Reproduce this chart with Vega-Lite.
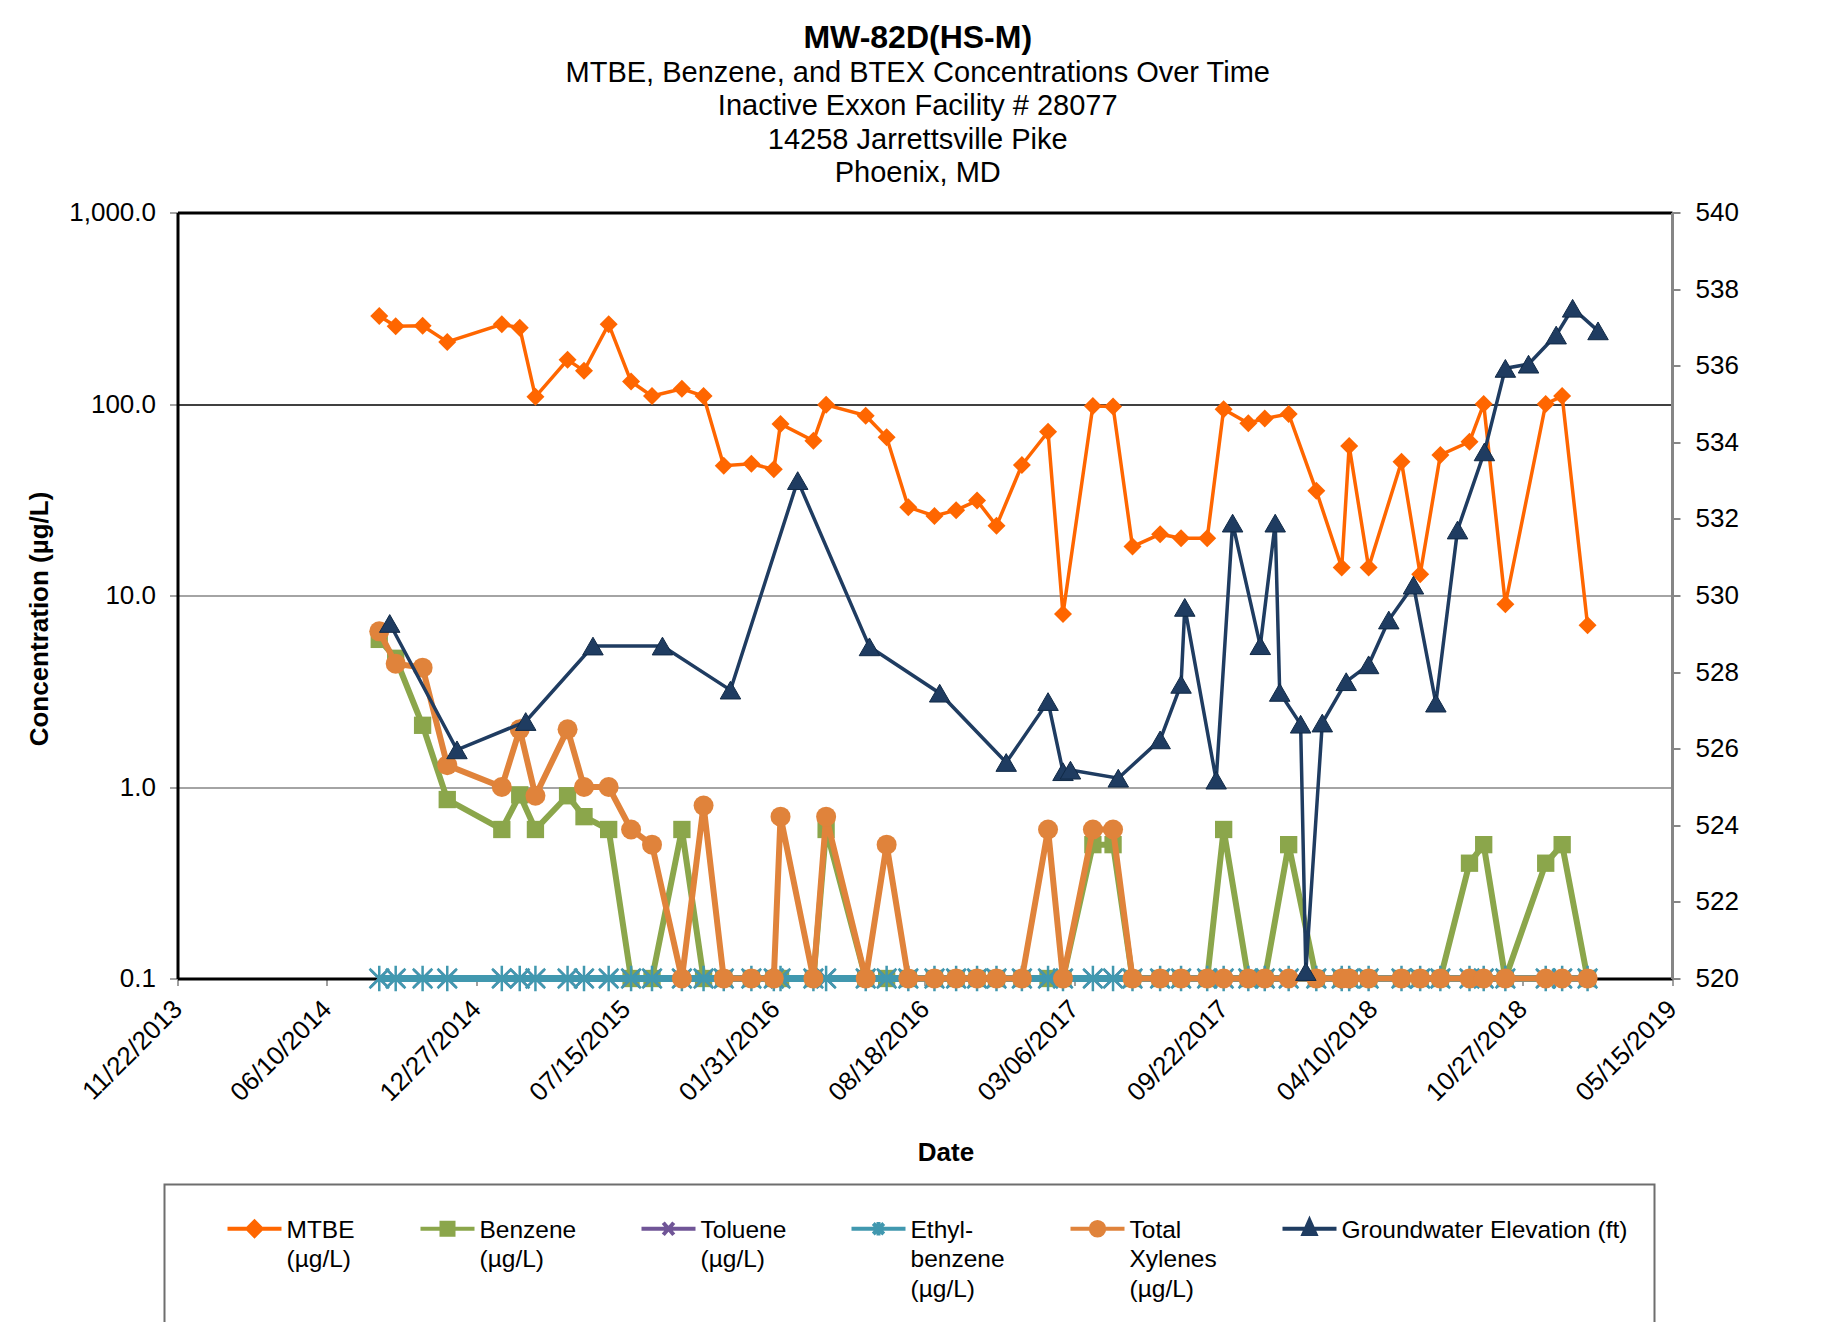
{
  "$schema": "https://vega.github.io/schema/vega-lite/v6.json",
  "width": 1494.5,
  "height": 766,
  "autosize": {"type": "none"},
  "padding": {"left": 177.5, "top": 212.5, "right": 159, "bottom": 343.5},
  "background": "white",
  "config": {
    "font": "Liberation Sans",
    "view": {"stroke": null},
    "axis": {"labelColor": "black", "titleColor": "black", "labelFont": "Liberation Sans", "titleFont": "Liberation Sans"}
  },
  "title": {
    "text": "MW-82D(HS-M)",
    "subtitle": ["MTBE, Benzene, and BTEX Concentrations Over Time", "Inactive Exxon Facility # 28077", "14258 Jarrettsville Pike", "Phoenix, MD"],
    "anchor": "middle",
    "frame": "group",
    "font": "Liberation Sans",
    "fontSize": 32,
    "fontWeight": "bold",
    "color": "black",
    "subtitleFont": "Liberation Sans",
    "subtitleFontSize": 29,
    "subtitleColor": "black",
    "subtitleLineHeight": 33.6,
    "subtitlePadding": 4,
    "offset": 10,
    "dx": -7
  },
  "datasets": {
    "conc": [
      {"d": "2014-08-19", "MTBE": 288, "Benzene": 5.9, "Toluene": 0.1, "Ethyl": 0.1, "Xylenes": 6.5},
      {"d": "2014-09-10", "MTBE": 255, "Benzene": 4.7, "Toluene": 0.1, "Ethyl": 0.1, "Xylenes": 4.4},
      {"d": "2014-10-16", "MTBE": 256, "Benzene": 2.1, "Toluene": 0.1, "Ethyl": 0.1, "Xylenes": 4.2},
      {"d": "2014-11-18", "MTBE": 211, "Benzene": 0.86, "Toluene": 0.1, "Ethyl": 0.1, "Xylenes": 1.3},
      {"d": "2015-01-30", "MTBE": 261, "Benzene": 0.6, "Toluene": 0.1, "Ethyl": 0.1, "Xylenes": 1.0},
      {"d": "2015-02-23", "MTBE": 250, "Benzene": 0.91, "Toluene": 0.1, "Ethyl": 0.1, "Xylenes": 2.0},
      {"d": "2015-03-16", "MTBE": 109, "Benzene": 0.6, "Toluene": 0.1, "Ethyl": 0.1, "Xylenes": 0.9},
      {"d": "2015-04-28", "MTBE": 170, "Benzene": 0.9, "Toluene": 0.1, "Ethyl": 0.1, "Xylenes": 2.0},
      {"d": "2015-05-20", "MTBE": 149, "Benzene": 0.7, "Toluene": 0.1, "Ethyl": 0.1, "Xylenes": 1.0},
      {"d": "2015-06-22", "MTBE": 261, "Benzene": 0.6, "Toluene": 0.1, "Ethyl": 0.1, "Xylenes": 1.0},
      {"d": "2015-07-22", "MTBE": 131, "Benzene": 0.1, "Toluene": 0.1, "Ethyl": 0.1, "Xylenes": 0.6},
      {"d": "2015-08-19", "MTBE": 110, "Benzene": 0.1, "Toluene": 0.1, "Ethyl": 0.1, "Xylenes": 0.5},
      {"d": "2015-09-28", "MTBE": 120, "Benzene": 0.6, "Toluene": 0.1, "Ethyl": 0.1, "Xylenes": 0.1},
      {"d": "2015-10-27", "MTBE": 110, "Benzene": 0.1, "Toluene": 0.1, "Ethyl": 0.1, "Xylenes": 0.8},
      {"d": "2015-11-23", "MTBE": 47.6, "Benzene": 0.1, "Toluene": 0.1, "Ethyl": 0.1, "Xylenes": 0.1},
      {"d": "2015-12-30", "MTBE": 48.7, "Benzene": 0.1, "Toluene": 0.1, "Ethyl": 0.1, "Xylenes": 0.1},
      {"d": "2016-01-29", "MTBE": 45.6, "Benzene": 0.1, "Toluene": 0.1, "Ethyl": 0.1, "Xylenes": 0.1},
      {"d": "2016-02-07", "MTBE": 78.7, "Benzene": 0.1, "Toluene": 0.1, "Ethyl": 0.1, "Xylenes": 0.7},
      {"d": "2016-03-22", "MTBE": 64.2, "Benzene": 0.1, "Toluene": 0.1, "Ethyl": 0.1, "Xylenes": 0.1},
      {"d": "2016-04-08", "MTBE": 99, "Benzene": 0.6, "Toluene": 0.1, "Ethyl": 0.1, "Xylenes": 0.7},
      {"d": "2016-05-31", "MTBE": 86.9, "Benzene": 0.1, "Toluene": 0.1, "Ethyl": 0.1, "Xylenes": 0.1},
      {"d": "2016-06-28", "MTBE": 67, "Benzene": 0.1, "Toluene": 0.1, "Ethyl": 0.1, "Xylenes": 0.5},
      {"d": "2016-07-27", "MTBE": 28.9, "Benzene": 0.1, "Toluene": 0.1, "Ethyl": 0.1, "Xylenes": 0.1},
      {"d": "2016-08-31", "MTBE": 26, "Benzene": 0.1, "Toluene": 0.1, "Ethyl": 0.1, "Xylenes": 0.1},
      {"d": "2016-09-29", "MTBE": 27.9, "Benzene": 0.1, "Toluene": 0.1, "Ethyl": 0.1, "Xylenes": 0.1},
      {"d": "2016-10-27", "MTBE": 31.3, "Benzene": 0.1, "Toluene": 0.1, "Ethyl": 0.1, "Xylenes": 0.1},
      {"d": "2016-11-22", "MTBE": 23.1, "Benzene": 0.1, "Toluene": 0.1, "Ethyl": 0.1, "Xylenes": 0.1},
      {"d": "2016-12-26", "MTBE": 48, "Benzene": 0.1, "Toluene": 0.1, "Ethyl": 0.1, "Xylenes": 0.1},
      {"d": "2017-01-30", "MTBE": 71.6, "Benzene": 0.1, "Toluene": 0.1, "Ethyl": 0.1, "Xylenes": 0.6},
      {"d": "2017-02-19", "MTBE": 8.0, "Benzene": 0.1, "Toluene": 0.1, "Ethyl": 0.1, "Xylenes": 0.1},
      {"d": "2017-03-31", "MTBE": 97.6, "Benzene": 0.5, "Toluene": 0.1, "Ethyl": 0.1, "Xylenes": 0.6},
      {"d": "2017-04-27", "MTBE": 96.9, "Benzene": 0.5, "Toluene": 0.1, "Ethyl": 0.1, "Xylenes": 0.6},
      {"d": "2017-05-23", "MTBE": 18, "Benzene": 0.1, "Toluene": 0.1, "Ethyl": 0.1, "Xylenes": 0.1},
      {"d": "2017-06-29", "MTBE": 20.9, "Benzene": 0.1, "Toluene": 0.1, "Ethyl": 0.1, "Xylenes": 0.1},
      {"d": "2017-07-27", "MTBE": 19.9, "Benzene": 0.1, "Toluene": 0.1, "Ethyl": 0.1, "Xylenes": 0.1},
      {"d": "2017-08-31", "MTBE": 19.9, "Benzene": 0.1, "Toluene": 0.1, "Ethyl": 0.1, "Xylenes": 0.1},
      {"d": "2017-09-22", "MTBE": 93.8, "Benzene": 0.6, "Toluene": 0.1, "Ethyl": 0.1, "Xylenes": 0.1},
      {"d": "2017-10-25", "MTBE": 79.3, "Benzene": 0.1, "Toluene": 0.1, "Ethyl": 0.1, "Xylenes": 0.1},
      {"d": "2017-11-16", "MTBE": 84.1, "Benzene": 0.1, "Toluene": 0.1, "Ethyl": 0.1, "Xylenes": 0.1},
      {"d": "2017-12-18", "MTBE": 88.7, "Benzene": 0.5, "Toluene": 0.1, "Ethyl": 0.1, "Xylenes": 0.1},
      {"d": "2018-01-24", "MTBE": 35.2, "Benzene": 0.1, "Toluene": 0.1, "Ethyl": 0.1, "Xylenes": 0.1},
      {"d": "2018-02-27", "MTBE": 14.0, "Benzene": 0.1, "Toluene": 0.1, "Ethyl": 0.1, "Xylenes": 0.1},
      {"d": "2018-03-09", "MTBE": 60.4, "Benzene": 0.1, "Toluene": 0.1, "Ethyl": 0.1, "Xylenes": 0.1},
      {"d": "2018-04-04", "MTBE": 14.0, "Benzene": 0.1, "Toluene": 0.1, "Ethyl": 0.1, "Xylenes": 0.1},
      {"d": "2018-05-18", "MTBE": 50, "Benzene": 0.1, "Toluene": 0.1, "Ethyl": 0.1, "Xylenes": 0.1},
      {"d": "2018-06-12", "MTBE": 12.9, "Benzene": 0.1, "Toluene": 0.1, "Ethyl": 0.1, "Xylenes": 0.1},
      {"d": "2018-07-09", "MTBE": 54.2, "Benzene": 0.1, "Toluene": 0.1, "Ethyl": 0.1, "Xylenes": 0.1},
      {"d": "2018-08-17", "MTBE": 63.5, "Benzene": 0.4, "Toluene": 0.1, "Ethyl": 0.1, "Xylenes": 0.1},
      {"d": "2018-09-05", "MTBE": 100, "Benzene": 0.5, "Toluene": 0.1, "Ethyl": 0.1, "Xylenes": 0.1},
      {"d": "2018-10-04", "MTBE": 9.0, "Benzene": 0.1, "Toluene": 0.1, "Ethyl": 0.1, "Xylenes": 0.1},
      {"d": "2018-11-27", "MTBE": 100, "Benzene": 0.4, "Toluene": 0.1, "Ethyl": 0.1, "Xylenes": 0.1},
      {"d": "2018-12-19", "MTBE": 110, "Benzene": 0.5, "Toluene": 0.1, "Ethyl": 0.1, "Xylenes": 0.1},
      {"d": "2019-01-22", "MTBE": 7.0, "Benzene": 0.1, "Toluene": 0.1, "Ethyl": 0.1, "Xylenes": 0.1}
    ],
    "gw": [
      {"d": "2014-09-02", "GW": 529.27},
      {"d": "2014-12-01", "GW": 525.97},
      {"d": "2015-03-03", "GW": 526.71},
      {"d": "2015-06-01", "GW": 528.68},
      {"d": "2015-09-02", "GW": 528.68},
      {"d": "2015-12-02", "GW": 527.53},
      {"d": "2016-03-01", "GW": 533.0},
      {"d": "2016-06-05", "GW": 528.66},
      {"d": "2016-09-07", "GW": 527.45},
      {"d": "2016-12-05", "GW": 525.64},
      {"d": "2017-01-30", "GW": 527.23},
      {"d": "2017-02-19", "GW": 525.4},
      {"d": "2017-03-01", "GW": 525.44},
      {"d": "2017-05-04", "GW": 525.23},
      {"d": "2017-06-29", "GW": 526.23},
      {"d": "2017-07-27", "GW": 527.68},
      {"d": "2017-08-01", "GW": 529.69},
      {"d": "2017-09-12", "GW": 525.18},
      {"d": "2017-10-04", "GW": 531.89},
      {"d": "2017-11-10", "GW": 528.69},
      {"d": "2017-11-30", "GW": 531.89},
      {"d": "2017-12-06", "GW": 527.47},
      {"d": "2018-01-03", "GW": 526.64},
      {"d": "2018-01-10", "GW": 520.18},
      {"d": "2018-02-01", "GW": 526.67},
      {"d": "2018-03-05", "GW": 527.75},
      {"d": "2018-04-04", "GW": 528.19},
      {"d": "2018-05-01", "GW": 529.36},
      {"d": "2018-06-03", "GW": 530.27},
      {"d": "2018-07-03", "GW": 527.19},
      {"d": "2018-08-01", "GW": 531.71},
      {"d": "2018-09-06", "GW": 533.75},
      {"d": "2018-10-04", "GW": 535.93},
      {"d": "2018-11-04", "GW": 536.04},
      {"d": "2018-12-11", "GW": 536.8},
      {"d": "2019-01-02", "GW": 537.5},
      {"d": "2019-02-05", "GW": 536.91}
    ]
  },
  "encoding": {
    "x": {
      "field": "d",
      "type": "temporal",
      "scale": {
        "type": "utc",
        "domain": [{"year": 2013, "month": 11, "date": 22, "utc": true}, {"year": 2019, "month": 5, "date": 15, "utc": true}]
      },
      "axis": {
        "values": [
          {"year": 2013, "month": 11, "date": 22, "utc": true},
          {"year": 2014, "month": 6, "date": 10, "utc": true},
          {"year": 2014, "month": 12, "date": 27, "utc": true},
          {"year": 2015, "month": 7, "date": 15, "utc": true},
          {"year": 2016, "month": 1, "date": 31, "utc": true},
          {"year": 2016, "month": 8, "date": 18, "utc": true},
          {"year": 2017, "month": 3, "date": 6, "utc": true},
          {"year": 2017, "month": 9, "date": 22, "utc": true},
          {"year": 2018, "month": 4, "date": 10, "utc": true},
          {"year": 2018, "month": 10, "date": 27, "utc": true},
          {"year": 2019, "month": 5, "date": 15, "utc": true}
        ],
        "format": "%m/%d/%Y",
        "labelAngle": -45,
        "labelAlign": "right",
        "labelBaseline": "middle",
        "labelFontSize": 26,
        "labelPadding": 19,
        "labelOverlap": false,
        "labelBound": false,
        "labelFlush": false,
        "tickSize": 7,
        "tickColor": "#808080",
        "tickWidth": 1.5,
        "domainColor": "black",
        "domainWidth": 3,
        "grid": false,
        "title": "Date",
        "titleFontSize": 26,
        "titleFontWeight": "bold",
        "titleX": 768,
        "titleY": 161
      }
    }
  },
  "layer": [
    {
      "data": {"name": "conc"},
      "transform": [{"fold": ["MTBE", "Benzene", "Toluene", "Ethyl", "Xylenes"], "as": ["series", "value"]}],
      "encoding": {
        "y": {
          "field": "value",
          "type": "quantitative",
          "scale": {"type": "log", "domain": [0.1, 1000], "nice": false},
          "axis": {
            "orient": "left",
            "values": [0.1, 1, 10, 100, 1000],
            "format": ",.1f",
            "grid": true,
            "gridColor": {"condition": {"test": "datum.value >= 100", "value": "black"}, "value": "#868686"},
            "gridWidth": {"condition": {"test": "datum.value >= 1000", "value": 3}, "value": 1.5},
            "domainColor": "black",
            "domainWidth": 3,
            "tickColor": "#868686",
            "tickSize": 8,
            "tickWidth": 1.5,
            "labelFontSize": 26,
            "labelPadding": 14,
            "title": "Concentration (µg/L)",
            "titleFontSize": 26,
            "titleFontWeight": "bold",
            "titleX": -125,
            "titleY": 406
          }
        },
        "color": {
          "field": "series",
          "type": "nominal",
          "scale": {
            "domain": ["MTBE", "Benzene", "Toluene", "Ethyl", "Xylenes", "GW"],
            "range": ["#FF6600", "#8BA64B", "#705597", "#4198AF", "#E0833B", "#1F3C61"]
          },
          "legend": {
            "orient": "none",
            "legendX": -13,
            "legendY": 972,
            "direction": "horizontal",
            "columns": 6,
            "columnPadding": 29,
            "title": null,
            "padding": 27,
            "strokeColor": "#6e6e6e",
            "symbolSize": 900,
            "symbolStrokeWidth": 4,
            "symbolOffset": 46,
            "labelOffset": 15,
            "labelFont": "Liberation Sans",
            "labelFontSize": 24.5,
            "labelColor": "black",
            "labelBaseline": "top",
            "labelLimit": 500,
            "labelExpr": "datum.value == 'MTBE' ? ['MTBE', '(µg/L)', ''] : datum.value == 'Benzene' ? ['Benzene', '(µg/L)', ''] : datum.value == 'Toluene' ? ['Toluene', '(µg/L)', ''] : datum.value == 'Ethyl' ? ['Ethyl-', 'benzene', '(µg/L)'] : datum.value == 'Xylenes' ? ['Total', 'Xylenes', '(µg/L)'] : ['Groundwater Elevation (ft)', '                                              ', '']",
            "encode": {
              "legend": {"update": {"strokeWidth": {"value": 2}}},
              "symbols": {
                "update": {
                  "shape": {"signal": "datum.value == 'MTBE' ? 'M-1.8,0L1.8,0M-0.47,0L0,-0.47L0.47,0L0,0.47Z' : datum.value == 'Benzene' ? 'M-1.8,0L1.8,0M-0.4,-0.4L0.4,-0.4L0.4,0.4L-0.4,0.4Z' : datum.value == 'Toluene' ? 'M-1.8,0L1.8,0M-0.35,-0.4L0.35,0.4M-0.35,0.4L0.35,-0.4' : datum.value == 'Ethyl' ? 'M-1.8,0L1.8,0M-0.35,-0.35L0.35,0.35M-0.35,0.35L0.35,-0.35M0,-0.45L0,0.45' : datum.value == 'Xylenes' ? 'M-1.8,0L1.8,0M-0.45,0A0.45,0.45,0,1,0,0.45,0A0.45,0.45,0,1,0,-0.45,0Z' : 'M-1.8,0L1.8,0M0,-0.55L0.4,0.35L-0.4,0.35Z'"},
                  "fill": {"signal": "datum.value == 'Toluene' || datum.value == 'Ethyl' ? 'transparent' : scale('color', datum.value)"},
                  "stroke": {"signal": "scale('color', datum.value)"},
                  "strokeWidth": {"value": 4},
                  "opacity": {"value": 1}
                }
              },
              "labels": {"update": {"dy": {"value": -10}, "lineHeight": {"value": 29.5}}}
            }
          }
        }
      },
      "layer": [
        {
          "transform": [{"filter": "datum.series === 'MTBE'"}],
          "mark": {"type": "line", "strokeWidth": 3.5, "point": {"shape": "diamond", "size": 324, "filled": true, "opacity": 1}}
        },
        {
          "transform": [{"filter": "datum.series === 'Benzene'"}],
          "mark": {"type": "line", "strokeWidth": 6, "point": {"shape": "square", "size": 300, "filled": true, "opacity": 1}}
        },
        {
          "transform": [{"filter": "datum.series === 'Toluene'"}],
          "mark": {"type": "line", "strokeWidth": 6, "point": {"shape": "M-1,-1L1,1M-1,1L1,-1", "size": 300, "filled": false, "strokeWidth": 2.5, "opacity": 1}}
        },
        {
          "transform": [{"filter": "datum.series === 'Ethyl'"}],
          "mark": {"type": "line", "strokeWidth": 7, "point": {"shape": "M-1,-1L1,1M-1,1L1,-1M0,-1.3L0,1.3", "size": 380, "filled": false, "strokeWidth": 2.5, "opacity": 1}}
        },
        {
          "transform": [{"filter": "datum.series === 'Xylenes'"}],
          "mark": {"type": "line", "strokeWidth": 6, "point": {"shape": "circle", "size": 400, "filled": true, "opacity": 1}}
        }
      ]
    },
    {
      "data": {"name": "gw"},
      "transform": [{"fold": ["GW"], "as": ["series", "elev"]}],
      "mark": {"type": "line", "strokeWidth": 3.5, "point": {"shape": "triangle-up", "size": 420, "filled": true, "opacity": 1, "stroke": "#112a47", "strokeWidth": 1}},
      "encoding": {
        "y": {
          "field": "elev",
          "type": "quantitative",
          "scale": {"domain": [520, 540], "nice": false, "zero": false},
          "axis": {
            "orient": "right",
            "values": [520, 522, 524, 526, 528, 530, 532, 534, 536, 538, 540],
            "format": "d",
            "grid": false,
            "domainColor": "#868686",
            "domainWidth": 3,
            "tickColor": "#868686",
            "tickSize": 8,
            "tickWidth": 2,
            "labelFontSize": 26,
            "labelPadding": 15,
            "title": null
          }
        },
        "color": {"field": "series", "type": "nominal"}
      }
    }
  ],
  "resolve": {"scale": {"y": "independent"}}
}
